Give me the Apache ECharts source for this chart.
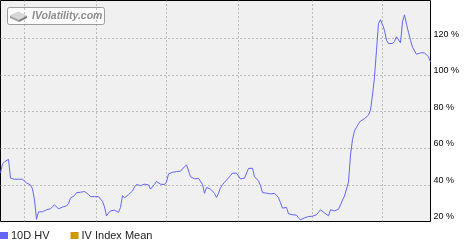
<!DOCTYPE html>
<html>
<head>
<meta charset="utf-8">
<script src="https://cdn.jsdelivr.net/npm/echarts@6/dist/echarts.min.js"></script>
<style>
html,body{margin:0;padding:0;background:#fff;}
#c{width:470px;height:240px;}
</style>
</head>
<body>
<div id="c"></div>
<script>
// 10-day historical volatility (%), one value per trading day
const hv10 = [
46.6,51.5,52.6,52.6,54.0,43.7,43.7,43.1,43.1,43.1,43.1,43.1,43.6,41.1,40.4,40.0,37.8,31.8,21.2,25.3,
24.6,25.3,25.8,26.4,26.8,27.0,27.2,29.1,28.2,26.9,27.6,27.9,28.2,28.5,29.8,32.8,33.6,34.2,35.7,36.0,
36.0,36.0,36.4,35.9,34.8,33.6,33.6,33.6,33.6,33.6,33.5,31.0,28.0,23.0,24.6,25.8,26.2,26.2,26.7,25.0,
27.7,34.2,32.9,33.9,34.7,35.5,36.7,38.9,40.2,39.3,39.6,40.6,40.4,40.0,40.0,37.7,37.6,40.3,41.9,41.4,
40.4,39.6,40.2,41.6,46.0,46.9,46.9,46.9,47.3,47.5,47.5,47.8,49.9,51.0,50.6,44.5,43.6,43.3,43.2,43.6,
43.1,40.3,35.4,38.6,38.4,37.7,36.6,35.3,33.2,35.4,38.4,40.1,41.5,42.6,43.8,45.1,46.4,46.4,46.4,45.5,
43.3,43.4,43.7,43.7,49.0,49.8,49.1,44.5,44.9,42.2,39.6,35.8,35.5,35.5,35.5,35.1,35.7,35.4,34.3,33.0,
30.2,27.3,26.8,27.7,24.2,23.7,23.7,23.8,23.5,22.0,20.9,21.0,22.0,22.3,22.7,23.1,22.9,23.7,23.7,25.1,
26.4,25.7,24.7,24.2,23.1,26.4,26.2,25.8,25.8,26.7,29.1,31.7,33.9,34.6,41.6,56.4,64.8,69.5,71.5,73.4,
74.9,75.7,76.2,76.8,78.2,80.9,89.1,99.1,113.6,128.4,130.3,127.5,124.5,119.1,117.3,117.3,117.3,118.5,121.0,121.0,
117.6,129.1,133.0,127.8,123.4,119.1,115.3,114.7,111.4,111.4,112.2,112.2,112.2,112.2,110.0,107.2
];
// IV Index Mean: no values shown in the chart
const ivIndexMean = [];
// day indices
const categories = hv10.map((_, i) => String(i));
// indices of the days where a new month starts (vertical grid lines)
const monthStartIdx = [12, 48, 83, 119, 156, 191];
// y tick values (percent)
const yTicks = [20, 40, 60, 80, 100, 120];
const seriesNames = ['10D HV', 'IV Index Mean'];

const chart = echarts.init(document.getElementById('c'), null, {renderer: 'canvas'});
const FONT = '"Liberation Sans", Arial, sans-serif';
chart.setOption({
  animation: false,
  backgroundColor: '#ffffff',
  grid: {
    left: 0.5, top: 0.5, right: 39.5, bottom: 18.5,
    show: true, backgroundColor: '#f0f0f0', borderColor: '#000', borderWidth: 1
  },
  legend: {
    data: seriesNames,
    left: 0, top: 230,
    icon: 'rect', itemWidth: 8, itemHeight: 7, itemGap: 21,
    padding: 0,
    textStyle: {fontFamily: FONT, fontSize: 11, color: '#222', padding: [0, 0, 0, -2]}
  },
  xAxis: {
    type: 'category', data: categories, boundaryGap: false,
    axisLine: {show: false}, axisTick: {show: false}, axisLabel: {show: false},
    splitLine: {
      show: true,
      interval: (idx) => monthStartIdx.includes(idx),
      lineStyle: {color: '#858585', type: [1, 3], width: 1}
    }
  },
  yAxis: {
    type: 'value', position: 'right', min: 20, max: 140.8, interval: 20,
    axisLine: {show: false}, axisTick: {show: false},
    splitLine: {show: false},
    axisLabel: {
      margin: 3, fontFamily: FONT, fontSize: 9, color: '#000',
      verticalAlign: 'bottom',
      formatter: (v) => yTicks.includes(v) ? v + ' %' : ''
    }
  },
  series: [
    {
      name: seriesNames[0], type: 'line', data: hv10, z: 3,
      showSymbol: false, symbol: 'none',
      lineStyle: {color: '#6464ff', width: 1}, itemStyle: {color: '#6464ff'}
    },
    {
      name: seriesNames[1], type: 'line', data: ivIndexMean, z: 3,
      showSymbol: false, symbol: 'none',
      lineStyle: {color: '#cc9900', width: 1}, itemStyle: {color: '#cc9900'}
    },
    {
      name: 'grid', type: 'line', data: [], z: 1, silent: true,
      markLine: {
        silent: true, symbol: 'none', label: {show: false},
        lineStyle: {color: '#858585', type: [1, 3], width: 1},
        data: yTicks.filter(v => v > 20).map(v => ({yAxis: v}))
      }
    }
  ],
  graphic: [
    {
      type: 'group', left: 7, top: 7, z: 10,
      children: [
        {type: 'rect', shape: {x: 0.5, y: 0.5, width: 97, height: 17, r: 2},
         style: {fill: '#fbfbfb', stroke: '#9c9c9c', lineWidth: 1}},
        {type: 'polygon', shape: {points: [[3, 9], [11, 5], [20, 9], [12, 13]]},
         style: {fill: '#d8d8d8', stroke: '#bbbbbb', lineWidth: 0.5}},
        {type: 'polygon', shape: {points: [[3, 9], [12, 13], [12, 15], [3, 11]]},
         style: {fill: '#a0a0a0'}},
        {type: 'polygon', shape: {points: [[12, 13], [20, 9], [20, 11], [12, 15]]},
         style: {fill: '#7a7a7a'}},
        {type: 'text', x: 25, y: 9.5,
         style: {text: 'IVolatility.com', fill: '#8c8c8c', font: 'italic bold 10.5px ' + FONT,
                 verticalAlign: 'middle', align: 'left'}}
      ]
    }
  ]
});
</script>
</body>
</html>
